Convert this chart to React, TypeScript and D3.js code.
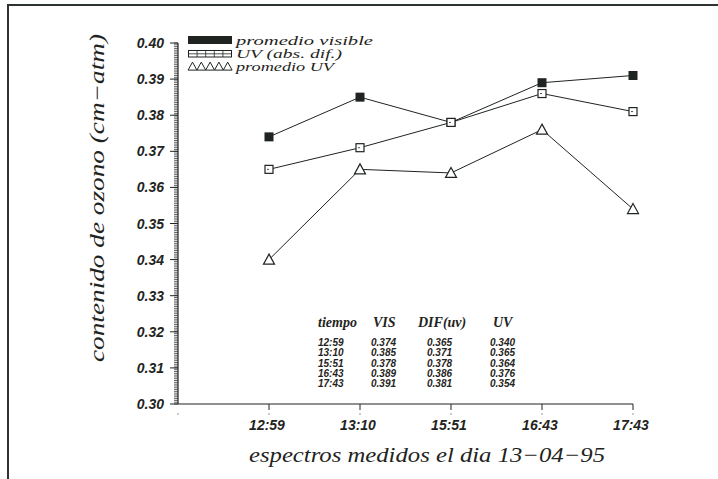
import React from "react";
import * as d3 from "d3";

const times = ["12:59", "13:10", "15:51", "16:43", "17:43"];
const visible = [0.374, 0.385, 0.378, 0.389, 0.391];
const uvDif = [0.365, 0.371, 0.378, 0.386, 0.381];
const uvProm = [0.34, 0.365, 0.364, 0.376, 0.354];
const yTicks = [0.3, 0.31, 0.32, 0.33, 0.34, 0.35, 0.36, 0.37, 0.38, 0.39, 0.4];
const headers = ["tiempo", "VIS", "DIF(uv)", "UV"];

const ink = "#1f2421";
const serif = "'Liberation Serif', 'Times New Roman', serif";
const sans = "'Liberation Sans', Arial, sans-serif";

const W = 718;
const H = 479;

const App = () => {
  const x = d3.scaleLinear().domain([0, times.length]).range([178, 633]);
  const y = d3.scaleLinear().domain([0.3, 0.4]).range([404, 43]);

  const line = d3
    .line<number>()
    .x((_, i) => x(i + 1))
    .y((d) => y(d));

  const minor = d3.range(0, 201).map((k) => 0.3 + k * 0.0005);

  const tri = (cx: number, cy: number, s: number) =>
    `M${cx},${cy - s * 0.55}L${cx + s * 0.55},${cy + s * 0.45}L${cx - s * 0.55},${cy + s * 0.45}Z`;

  const colX = [318, 371, 427, 490];
  const rowY = d3.range(times.length).map((i) => 346 + i * 10.3);

  return (
    <svg
      width={W}
      height={H}
      style={{ position: "absolute", left: 0, top: 0, background: "#fff" }}
    >
      {/* frame */}
      <line x1={7} x2={718} y1={5} y2={5} stroke="#2d332f" strokeWidth={2} />
      <line x1={8} x2={8} y1={5} y2={479} stroke="#2d332f" strokeWidth={2} />

      {/* y axis */}
      <line x1={178} x2={178} y1={y(0.4)} y2={y(0.3)} stroke={ink} strokeWidth={1.2} />
      {minor.map((v, i) => (
        <line
          key={"m" + i}
          x1={174}
          x2={178}
          y1={y(v)}
          y2={y(v)}
          stroke={ink}
          strokeWidth={0.7}
        />
      ))}
      {yTicks.map((t) => (
        <g key={"yt" + t}>
          <line x1={170} x2={178} y1={y(t)} y2={y(t)} stroke={ink} strokeWidth={1} />
          <text
            x={164}
            y={y(t) + 5}
            textAnchor="end"
            fontFamily={sans}
            fontWeight="bold"
            fontStyle="italic"
            fontSize={14}
            fill={ink}
          >
            {t.toFixed(2)}
          </text>
        </g>
      ))}

      {/* x axis */}
      <line x1={178} x2={633} y1={y(0.3)} y2={y(0.3)} stroke={ink} strokeWidth={1.2} />
      <circle cx={178} cy={414} r={0.8} fill="#888" />
      {times.map((t, i) => (
        <g key={"xt" + t}>
          <line x1={x(i + 1)} x2={x(i + 1)} y1={y(0.3)} y2={y(0.3) + 6} stroke={ink} strokeWidth={1} />
          <circle cx={x(i + 1)} cy={414} r={0.8} fill="#888" />
          <text
            x={x(i + 1) - 2}
            y={430}
            textAnchor="middle"
            fontFamily={sans}
            fontWeight="bold"
            fontStyle="italic"
            fontSize={14}
            fill={ink}
          >
            {t}
          </text>
        </g>
      ))}

      {/* axis titles */}
      <text
        x={427}
        y={462}
        textAnchor="middle"
        fontFamily={serif}
        fontStyle="italic"
        fontSize={21}
        textLength={356}
        lengthAdjust="spacingAndGlyphs"
        fill={ink}
      >
        espectros medidos el dia 13−04−95
      </text>
      <text
        transform="translate(104,198) rotate(-90)"
        textAnchor="middle"
        fontFamily={serif}
        fontStyle="italic"
        fontSize={21}
        textLength={328}
        lengthAdjust="spacingAndGlyphs"
        fill={ink}
      >
        contenido de ozono (cm−atm)
      </text>

      {/* series lines */}
      {[visible, uvDif, uvProm].map((s, k) => (
        <path key={"l" + k} d={line(s) || ""} fill="none" stroke={ink} strokeWidth={1} />
      ))}

      {/* markers */}
      {visible.map((v, i) => (
        <rect key={"v" + i} x={x(i + 1) - 4.5} y={y(v) - 4.5} width={9} height={9} fill={ink} />
      ))}
      {uvDif.map((v, i) => (
        <g key={"d" + i}>
          <rect
            x={x(i + 1) - 4}
            y={y(v) - 4}
            width={8}
            height={8}
            fill="#fff"
            stroke={ink}
            strokeWidth={1.2}
          />
          <line x1={x(i + 1) - 2} x2={x(i + 1)} y1={y(v)} y2={y(v)} stroke={ink} strokeWidth={0.8} />
        </g>
      ))}
      {uvProm.map((v, i) => (
        <path key={"p" + i} d={tri(x(i + 1), y(v), 10)} fill="#fff" stroke={ink} strokeWidth={1.2} />
      ))}

      {/* legend */}
      <rect x={188} y={36} width={44} height={8} fill={ink} />
      <text x={236} y={44.5} fontFamily={serif} fontStyle="italic" fontSize={12} textLength={137} lengthAdjust="spacingAndGlyphs" fill={ink}>
        promedio visible
      </text>
      <rect x={188.5} y={50.5} width={43} height={6.5} fill="#fff" stroke={ink} strokeWidth={1} />
      <line x1={188.5} x2={231.5} y1={53.8} y2={53.8} stroke={ink} strokeWidth={0.8} />
      {d3.range(1, 5).map((k) => (
        <line key={"lg" + k} x1={188.5 + k * 8.6} x2={188.5 + k * 8.6} y1={50.5} y2={57} stroke={ink} strokeWidth={0.8} />
      ))}
      <text x={236} y={57.5} fontFamily={serif} fontStyle="italic" fontSize={12} textLength={106} lengthAdjust="spacingAndGlyphs" fill={ink}>
        UV (abs. dif.)
      </text>
      {d3.range(5).map((k) => (
        <path key={"lt" + k} d={tri(192.5 + k * 8.8, 66.5, 8)} fill="#fff" stroke={ink} strokeWidth={1} />
      ))}
      <text x={236} y={70.5} fontFamily={serif} fontStyle="italic" fontSize={12} textLength={98} lengthAdjust="spacingAndGlyphs" fill={ink}>
        promedio UV
      </text>

      {/* data table */}
      {headers.map((h, j) => (
        <text
          key={"h" + h}
          x={[318, 373, 418, 493][j]}
          y={327}
          fontFamily={serif}
          fontStyle="italic"
          fontWeight="bold"
          fontSize={14}
          fill={ink}
        >
          {h}
        </text>
      ))}
      {times.map((t, i) => (
        <text
          key={"r" + i}
          y={rowY[i]}
          fontFamily={sans}
          fontWeight="bold"
          fontStyle="italic"
          fontSize={10}
          fill={ink}
        >
          <tspan x={colX[0]}>{t}</tspan>
          <tspan x={colX[1]}>{visible[i].toFixed(3)}</tspan>
          <tspan x={colX[2]}>{uvDif[i].toFixed(3)}</tspan>
          <tspan x={colX[3]}>{uvProm[i].toFixed(3)}</tspan>
        </text>
      ))}
    </svg>
  );
};

export default App;
